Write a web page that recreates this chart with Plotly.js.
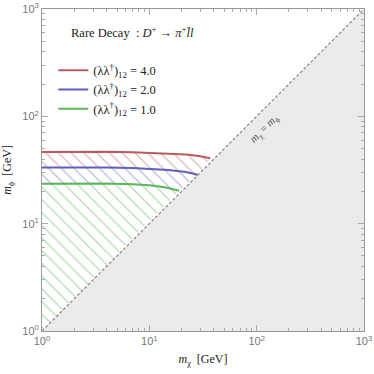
<!DOCTYPE html>
<html>
<head>
<meta charset="utf-8">
<script src="https://cdn.plot.ly/plotly-3.0.1.min.js"></script>
<style>html,body{margin:0;padding:0;background:#fff}#chart{width:374px;height:374px}</style>
</head>
<body>
<div id="chart"></div>
<script>
// ---- data ----
const redX   = [1, 2, 4, 7, 10, 15, 22, 29, 37];
const redY   = [46.5, 46.9, 46.9, 46.4, 45.7, 45.0, 44.2, 42.6, 40.6];
const blueX  = [1, 2, 4, 7, 10, 15, 22, 28.2];
const blueY  = [33.4, 33.5, 33.4, 33.0, 32.5, 31.6, 30.3, 28.6];
const greenX = [1, 2, 4, 7, 10, 14, 19];
const greenY = [23.6, 23.8, 23.7, 23.3, 22.8, 21.8, 20.3];
const diagX  = [1, 1000];
const diagY  = [1, 1000];
const labels = ["(λλ<sup>†</sup>)<sub>12</sub> = 4.0", "(λλ<sup>†</sup>)<sub>12</sub> = 2.0", "(λλ<sup>†</sup>)<sub>12</sub> = 1.0"];
const tickVals = [1, 10, 100, 1000];
const tickText = ["10<sup>0</sup>", "10<sup>1</sup>", "10<sup>2</sup>", "10<sup>3</sup>"];

const RED = "#b85c5f", BLUE = "#5f5fbd", GREEN = "#58b858";
const serif = "Liberation Serif, DejaVu Serif, serif";

function band(upX, upY, loX, loY) {
  return {
    x: upX.concat(loX.slice().reverse()),
    y: upY.concat(loY.slice().reverse())
  };
}
function hatch(b, col) {
  return {
    x: b.x, y: b.y, type: "scatter", mode: "lines", fill: "toself",
    fillcolor: "rgba(0,0,0,0)", line: {width: 0}, showlegend: false, hoverinfo: "skip",
    fillpattern: {shape: "\\", fgcolor: col, bgcolor: "rgba(0,0,0,0)", size: 9, solidity: 0.13, fillmode: "overlay"}
  };
}

const redBand = band(redX, redY, blueX, blueY);
const blueBand = band(blueX, blueY, greenX, greenY);
const greenBand = band(greenX, greenY, [diagX[0]], [diagY[0]]);

const traces = [
  // excluded region below diagonal
  {x: [diagX[0], diagX[1], diagX[1]], y: [diagY[0], diagY[1], diagY[0]], type: "scatter", mode: "lines",
   fill: "toself", fillcolor: "#ebebeb", line: {width: 0}, showlegend: false, hoverinfo: "skip"},
  hatch(redBand, "#b5585b"),
  hatch(blueBand, "#5c5cba"),
  hatch(greenBand, "#4fae4f"),
  {x: diagX, y: diagY, type: "scatter", mode: "lines", line: {color: "#888", width: 1.2, dash: "3px,2px"},
   showlegend: false, hoverinfo: "skip"},
  {x: redX, y: redY, type: "scatter", mode: "lines", name: labels[0], line: {color: RED, width: 2}},
  {x: blueX, y: blueY, type: "scatter", mode: "lines", name: labels[1], line: {color: BLUE, width: 2}},
  {x: greenX, y: greenY, type: "scatter", mode: "lines", name: labels[2], line: {color: GREEN, width: 2}}
];

const axisCommon = {
  type: "log", range: [0, 3], tickmode: "array", tickvals: tickVals, ticktext: tickText,
  ticks: "inside", ticklen: 6, tickcolor: "#aaa", tickwidth: 1,
  showline: true, linecolor: "#999", linewidth: 1, mirror: "allticks",
  showgrid: false, zeroline: false,
  tickfont: {family: "Liberation Sans, Arial, sans-serif", size: 11, color: "#777"},
  minor: {dtick: "D1", ticks: "inside", ticklen: 3, tickcolor: "#aaa", showgrid: false}
};

const layout = {
  width: 374, height: 374,
  margin: {l: 42, r: 10, t: 9, b: 43},
  paper_bgcolor: "#fff", plot_bgcolor: "#fff",
  showlegend: true,
  legend: {x: 0.035, y: 0.855, xanchor: "left", yanchor: "top", bgcolor: "rgba(0,0,0,0)",
           font: {family: serif, size: 12.5, color: "#222"}, itemwidth: 30, tracegroupgap: 0,
           traceorder: "normal"},
  xaxis: Object.assign({}, axisCommon, {
    title: {text: "<i>m</i><sub>χ</sub>  [GeV]", font: {family: serif, size: 12, color: "#222"}, standoff: 8}
  }),
  yaxis: Object.assign({}, axisCommon, {
    title: {text: "<i>m</i><sub>ϕ</sub>  [GeV]", font: {family: serif, size: 12, color: "#222"}, standoff: 8}
  }),
  annotations: [
    {xref: "paper", yref: "paper", x: 0.083, y: 0.93, xanchor: "left", yanchor: "middle", showarrow: false,
     text: "Rare Decay  : <i>D</i><sup>+</sup> → <i>π</i><sup>+</sup><i>l̄l</i>",
     font: {family: serif, size: 12.5, color: "#222"}},
    {xref: "x", yref: "y", x: 2.07, y: 1.88, showarrow: false, textangle: -45,
     text: "<i>m</i><sub>χ</sub> = <i>m</i><sub>ϕ</sub>", font: {family: serif, size: 11, color: "#555"}}
  ]
};

Plotly.newPlot("chart", traces, layout, {staticPlot: true, displayModeBar: false});
</script>
</body>
</html>
